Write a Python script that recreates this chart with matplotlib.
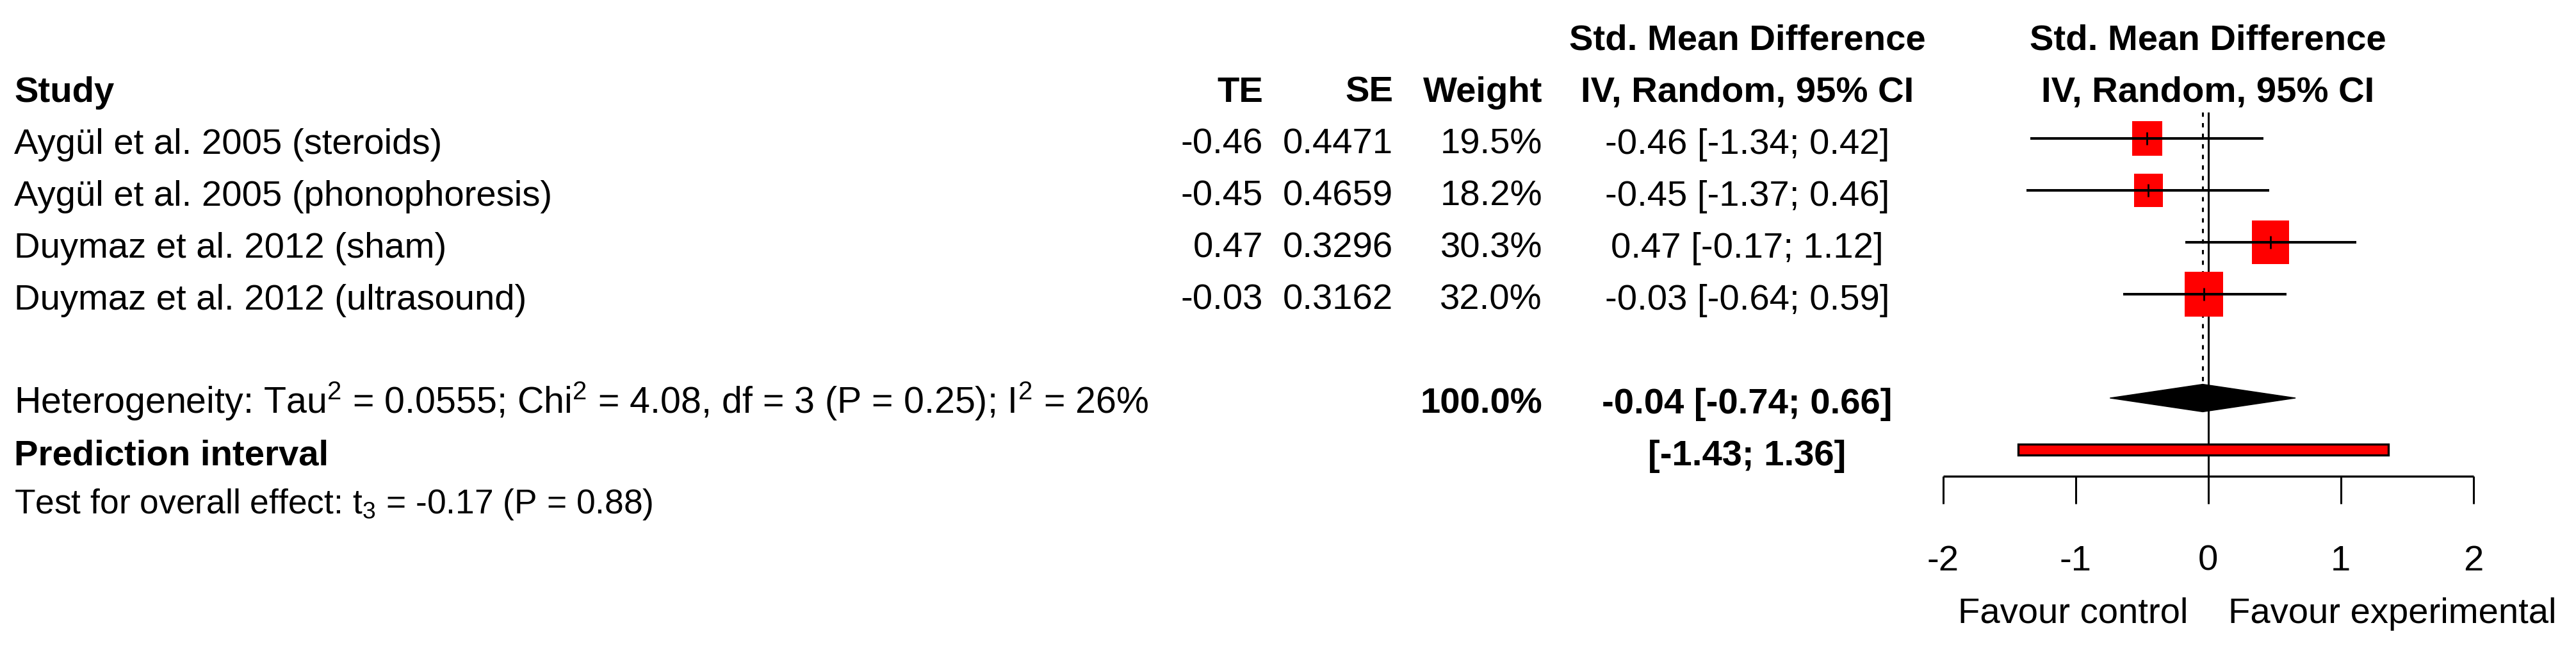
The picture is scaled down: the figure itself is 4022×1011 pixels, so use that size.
import numpy as np
import matplotlib
matplotlib.use("Agg")
import matplotlib.pyplot as plt
import matplotlib.transforms as mtransforms
from matplotlib import font_manager
from matplotlib.patches import Rectangle, Polygon

# Study level data
studies = ["Aygül et al. 2005 (steroids)",
           "Aygül et al. 2005 (phonophoresis)",
           "Duymaz et al. 2012 (sham)",
           "Duymaz et al. 2012 (ultrasound)"]
te = [-0.46, -0.45, 0.47, -0.03]
se = [0.4471, 0.4659, 0.3296, 0.3162]
weight = [19.5, 18.2, 30.3, 32.0]
ci_low = [-1.34, -1.37, -0.17, -0.64]
ci_high = [0.42, 0.46, 1.12, 0.59]

# Random effects summary
pooled = -0.04
pooled_low = -0.74
pooled_high = 0.66
pred_low = -1.43
pred_high = 1.36
total_weight = 100.0
tau2 = 0.0555
chi2 = 4.08
df = 3
p_het = 0.25
i2 = 26
t_stat = -0.17
p_overall = 0.88

ticks = [-2, -1, 0, 1, 2]

# font: narrow arial-like if we have it
names = {f.name for f in font_manager.fontManager.ttflist}
if "Liberation Sans Narrow" in names:
    FONT = "Liberation Sans Narrow"
    FS = 49
else:
    FONT = "Liberation Sans"
    FS = 40.5
plt.rcParams['font.family'] = [FONT, 'DejaVu Sans']
plt.rcParams['mathtext.fontset'] = 'custom'
plt.rcParams['mathtext.rm'] = FONT
plt.rcParams['mathtext.it'] = FONT
plt.rcParams['mathtext.bf'] = FONT + ':bold'
plt.rcParams['mathtext.default'] = 'regular'

W, H = 4022, 1011
X0, UNIT = 3447.5, 207.0      # pixel of effect 0, pixels per unit
ROW0, ROWH = 216.0, 81.0      # pixel of first study row, row height
BASE = 24.0 / ROWH            # text baseline offset in rows

fig = plt.figure(figsize=(W / 100, H / 100), dpi=100)
fig.patch.set_facecolor('white')
ax = fig.add_axes([0, 0, 1, 1])
ax.set_xlim(-X0 / UNIT, (W - X0) / UNIT)
ax.set_ylim((H - ROW0) / ROWH, -ROW0 / ROWH)
ax.axis('off')

# x in pixel fraction, y in rows
tr = mtransforms.blended_transform_factory(ax.transAxes, ax.transData)


def col_text(px, row, s, ha='left', bold=False, size=FS):
    ax.text(px / W, row + BASE, s, transform=tr, ha=ha, va='baseline',
            fontsize=size, fontweight='bold' if bold else 'normal')


X_STUDY, X_TE, X_SE, X_W, X_CI = 22, 1972, 2175, 2408, 2728

# headers
col_text(X_CI, -2, "Std. Mean Difference", ha='center', bold=True)
col_text(X_STUDY, -1, "Study", bold=True)
col_text(X_TE, -1, "TE", ha='right', bold=True)
col_text(X_SE, -1, "SE", ha='right', bold=True)
col_text(X_W, -1, "Weight", ha='right', bold=True)
col_text(X_CI, -1, "IV, Random, 95% CI", ha='center', bold=True)
ax.text(0, -2 + BASE, "Std. Mean Difference", ha='center', va='baseline',
        fontsize=FS, fontweight='bold')
ax.text(0, -1 + BASE, "IV, Random, 95% CI", ha='center', va='baseline',
        fontsize=FS, fontweight='bold')

# study rows
rows = np.arange(len(studies))
for i in rows:
    col_text(X_STUDY, i, studies[i])
    col_text(X_TE, i, "%.2f" % te[i], ha='right')
    col_text(X_SE, i, "%.4f" % se[i], ha='right')
    col_text(X_W, i, "%.1f%%" % weight[i], ha='right')
    col_text(X_CI, i, "%.2f [%.2f; %.2f]" % (te[i], ci_low[i], ci_high[i]), ha='center')

# summary rows
SUM_ROW = len(studies) + 1
PRED_ROW = SUM_ROW + 1
col_text(X_STUDY, SUM_ROW,
         "Heterogeneity: Tau$^2$ = %.4f; Chi$^2$ = %.2f, df = %d (P = %.2f); I$^2$ = %d%%"
         % (tau2, chi2, df, p_het, i2), size=FS * 1.02)
col_text(X_W, SUM_ROW, "%.1f%%" % total_weight, ha='right', bold=True)
col_text(X_CI, SUM_ROW, "%.2f [%.2f; %.2f]" % (pooled, pooled_low, pooled_high),
         ha='center', bold=True)
col_text(X_STUDY, PRED_ROW, "Prediction interval", bold=True)
col_text(X_CI, PRED_ROW, "[%.2f; %.2f]" % (pred_low, pred_high), ha='center', bold=True)
col_text(X_STUDY, PRED_ROW + 0.92,
         "Test for overall effect: t$_%d$ = %.2f (P = %.2f)" % (df, t_stat, p_overall),
         size=FS * 0.95)

# forest: reference lines
top = -0.506
axis_y = PRED_ROW + 0.506
half_d = 0.265
ax.vlines(0, top, axis_y, color='black', lw=2.2, zorder=2)
ax.vlines(pooled, top, SUM_ROW - half_d, color='black', lw=2.2,
          linestyles=(0, (2.2, 3.2)), zorder=2)

# squares, CI lines, point ticks
SQ = 12.2   # pixels of square height per sqrt(weight)
for i in rows:
    h_px = SQ * np.sqrt(weight[i])
    w_px = 0.87 * h_px
    ax.add_patch(Rectangle((te[i] - w_px / UNIT / 2, i - h_px / ROWH / 2),
                           w_px / UNIT, h_px / ROWH, facecolor='#ff0000',
                           edgecolor='none', zorder=3))
    ax.hlines(i, ci_low[i], ci_high[i], color='black', lw=2.9, zorder=4)
    ax.vlines(te[i], i - 0.12, i + 0.12, color='black', lw=2.0, zorder=5)

# diamond
ax.add_patch(Polygon([(pooled_low, SUM_ROW), (pooled, SUM_ROW - half_d),
                      (pooled_high, SUM_ROW), (pooled, SUM_ROW + half_d)],
                     closed=True, facecolor='black', edgecolor='black', lw=1, zorder=3))

# prediction interval bar
ph = 17 / ROWH
ax.add_patch(Rectangle((pred_low, PRED_ROW - ph / 2), pred_high - pred_low, ph,
                       facecolor='#ff0000', edgecolor='black', lw=2.4, zorder=3))

# x axis
ax.hlines(axis_y, ticks[0], ticks[-1], color='black', lw=2.4, zorder=2)
ax.vlines(ticks, axis_y, axis_y + 0.53, color='black', lw=2.2, zorder=2)
for t in ticks:
    ax.text(t, 8.32, "%d" % t, ha='center', va='baseline', fontsize=FS)
ax.text(-0.15, 9.33, "Favour control", ha='right', va='baseline', fontsize=FS)
ax.text(0.15, 9.33, "Favour experimental", ha='left', va='baseline', fontsize=FS)

fig.savefig("out.png", dpi=100, facecolor='white')
